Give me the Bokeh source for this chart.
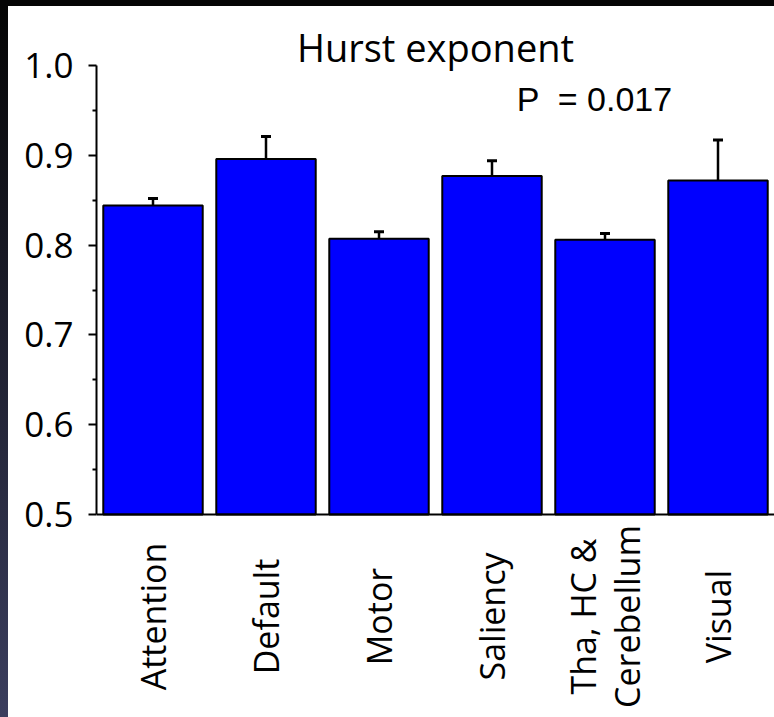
import math
from bokeh.plotting import figure
from bokeh.models import (Range1d, FixedTicker, NumeralTickFormatter, Whisker, TeeHead,
                          ColumnDataSource, Span, Spacer)
from bokeh.core.properties import value
from bokeh.layouts import column, row
from bokeh.embed import file_html
from bokeh.resources import INLINE

categories = ["Attention", "Default", "Motor", "Saliency", "Tha, HC &\nCerebellum", "Visual"]
means = [0.844, 0.896, 0.807, 0.877, 0.806, 0.872]
errors = [0.008, 0.025, 0.008, 0.017, 0.007, 0.045]
yticks = [0.5, 0.6, 0.7, 0.8, 0.9, 1.0]
yminor = [0.55, 0.65, 0.75, 0.85, 0.95]
title_text = "Hurst exponent"
p_text = "P \u00a0= 0.017"

# layout constants (pixels)
FIG_W, FIG_H = 766, 711
LEFT = 88
PX_PER_UNIT = 898.0
TOP_PAD = 59  # pixels above y=1.0
Y_MAX = 1.0 + TOP_PAD / PX_PER_UNIT
Y_MIN = Y_MAX - FIG_H / PX_PER_UNIT
LABEL_Y = 0.5 - 102 / PX_PER_UNIT
TITLE_Y = 1.0 + 19 / PX_PER_UNIT
P_Y = 1.0 - 33 / PX_PER_UNIT

xs = list(range(1, len(categories) + 1))
src = ColumnDataSource(dict(x=xs, top=means,
                            upper=[m + e for m, e in zip(means, errors)]))

p = figure(width=FIG_W, height=FIG_H, output_backend="svg", toolbar_location=None,
           x_range=Range1d(0.5, len(categories) + 0.5), y_range=Range1d(Y_MIN, Y_MAX),
           min_border_left=LEFT, min_border_right=0, min_border_top=0, min_border_bottom=0,
           background_fill_color="white", border_fill_color="white")
p.outline_line_color = None
p.xgrid.visible = False
p.ygrid.visible = False
p.xaxis.visible = False

p.vbar(x="x", top="top", bottom=yticks[0], width=0.88, source=src,
       fill_color="#0000ff", line_color="black", line_width=2)

w = Whisker(base="x", lower="top", upper="upper", source=src,
            line_color="black", line_width=2.5,
            upper_head=TeeHead(size=10, line_width=3, line_color="black"),
            lower_head=None)
p.add_layout(w)

p.add_layout(Span(location=yticks[0], dimension="width", line_color="black", line_width=2))

# y axis
ya = p.yaxis[0]
ya.bounds = (yticks[0], yticks[-1])
ya.ticker = FixedTicker(ticks=yticks, minor_ticks=yminor)
ya.formatter = NumeralTickFormatter(format="0.0")
ya.axis_line_width = 2
ya.axis_line_color = "black"
ya.major_tick_line_width = 2
ya.major_tick_out = 8
ya.major_tick_in = 0
ya.minor_tick_line_width = 2
ya.minor_tick_out = 4
ya.minor_tick_in = 0
ya.major_label_text_font = "Open Sans"
ya.major_label_text_font_size = "35px"
ya.major_label_text_color = "black"
ya.major_label_standoff = 15

# category labels (rotated)
p.text(x=xs, y=[LABEL_Y] * len(xs), text=categories, angle=math.pi / 2,
       text_align="center", text_baseline="middle",
       text_font=value("Open Sans"), text_font_size="34px", text_color="black",
       text_line_height=0.95)

# title
p.text(x=[(len(categories) + 1) / 2], y=[TITLE_Y], text=[title_text],
       text_align="center", text_baseline="alphabetic",
       text_font=value("Open Sans"), text_font_size="38px", text_color="black")

# p-value
p.text(x=[4.91], y=[P_Y], text=[p_text], text_align="center",
       text_baseline="alphabetic", text_font=value("Liberation Sans"),
       text_font_size="34px", text_color="black")

top_strip = Spacer(width=774, height=6, styles={"background-color": "#050505"})
left_strip = Spacer(width=8, height=FIG_H,
                    styles={"background": "linear-gradient(#050505, #3b3e5e)"})
layout = column(top_strip, row(left_strip, p, spacing=0), spacing=0)

open("out.html", "w").write(file_html(layout, INLINE))
